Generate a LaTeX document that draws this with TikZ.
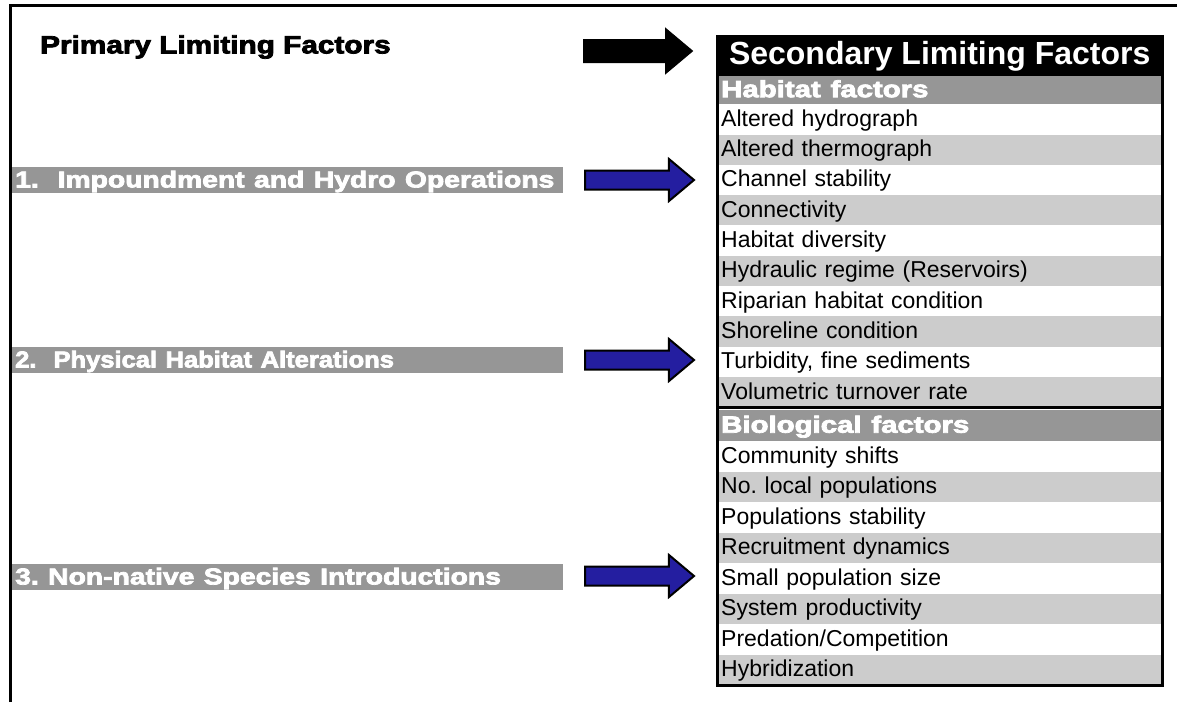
\documentclass[tikz,border=0pt]{standalone}
\usepackage{fontspec}
\setmainfont{Liberation Sans}
\newfontfamily\heavyfont[BoldFeatures={FakeBold=3}]{Liberation Sans}
\usetikzlibrary{shapes.arrows}
\definecolor{bargrey}{RGB}{150,150,150}
\definecolor{rowgrey}{RGB}{204,204,204}
\definecolor{arrowblue}{RGB}{36,30,160}
\newcommand{\wide}[2][1.23]{\scalebox{#1}[1]{#2}}
\frenchspacing
\begin{document}
\begin{tikzpicture}[x=1pt,y=-1pt,
  heavy/.style={font=\heavyfont\bfseries\fontsize{23}{23}\selectfont},
  primary/.style={font=\heavyfont\bfseries\fontsize{25}{25}\selectfont,
    anchor=west, inner sep=0, text=black},
  factorbar/.style={heavy, anchor=north west, fill=bargrey, text=white,
    minimum width=551, minimum height=26, text width=545, inner xsep=3,
    inner ysep=0, align=left, text height=16.5, text depth=2},
  rowcell/.style={anchor=north west, minimum width=445, text width=437,
    inner xsep=4, inner ysep=0, align=left,
    font=\fontsize{23}{23}\selectfont, text height=17, text depth=3},
  wrow/.style={rowcell, fill=white, minimum height=#1},
  grow/.style={rowcell, fill=rowgrey, minimum height=#1},
  header/.style={font=\heavyfont\bfseries\fontsize{23.5}{23.5}\selectfont,
    anchor=north west, fill=bargrey, text=white,
    minimum width=445, text width=437, inner xsep=4, inner ysep=0,
    align=left, minimum height=#1, text height=17, text depth=3},
  bigarrow/.style={single arrow, single arrow tip angle=80,
    minimum height=109, inner xsep=0, text height=0, text depth=0,
    anchor=tail},
  blackarrow/.style={bigarrow, fill=black, draw=black, line width=1,
    single arrow head extend=11, inner ysep=11},
  bluearrow/.style={bigarrow, fill=arrowblue, draw=black, line width=2,
    single arrow head extend=11.5, inner ysep=8.5}
]
\useasboundingbox (0,0) rectangle (1177,702);
\fill[white] (0,0) rectangle (1177,702);
% frame
\draw[line width=3] (10,702) -- (10,5) -- (1177,5);

% primary factors
\node[primary] (prim) at (40,47) {\wide[1.19]{Primary Limiting Factors}};
\node[factorbar] (p1) at (12,167) {\wide{1.\ \ Impoundment and Hydro Operations}};
\node[factorbar] (p2) at (12,347) {\wide[1.11]{2.\ \ Physical Habitat Alterations}};
\node[factorbar] (p3) at (12,564) {\wide{3. Non-native Species Introductions}};

% arrows
\node[blackarrow] (a0) at (583,51) {};
\node[bluearrow] (a1) at (584,180) {};
\node[bluearrow] (a2) at (584,360) {};
\node[bluearrow] (a3) at (584,576) {};

% table title
\node[anchor=north west, fill=black, text=white, minimum width=445,
  minimum height=40, inner sep=0,
  font=\bfseries\fontsize{32}{32}\selectfont] (title) at (717,36)
  {Secondary Limiting Factors};

% habitat
\node[header=28] (hh) at (717,76) {\wide[1.25]{Habitat factors}};
\node[wrow=30.3] (h1) at (717,104) {Altered hydrograph};
\node[grow=30.3] (h2) at (717,134.3) {Altered thermograph};
\node[wrow=30.3] (h3) at (717,164.6) {Channel stability};
\node[grow=30.3] (h4) at (717,194.9) {Connectivity};
\node[wrow=30.3] (h5) at (717,225.2) {Habitat diversity};
\node[grow=30.3] (h6) at (717,255.5) {Hydraulic regime (Reservoirs)};
\node[wrow=30.3] (h7) at (717,285.8) {Riparian habitat condition};
\node[grow=30.3] (h8) at (717,316.1) {Shoreline condition};
\node[wrow=30.3] (h9) at (717,346.4) {Turbidity, fine sediments};
\node[grow=30.3] (h10) at (717,376.7) {Volumetric turnover rate};

% biological
\node[header=31] (bh) at (717,410) {\wide[1.25]{Biological factors}};
\node[wrow=30.5] (b1) at (717,441) {Community shifts};
\node[grow=30.5] (b2) at (717,471.5) {No. local populations};
\node[wrow=30.5] (b3) at (717,502) {Populations stability};
\node[grow=30.5] (b4) at (717,532.5) {Recruitment dynamics};
\node[wrow=30.5] (b5) at (717,563) {Small population size};
\node[grow=30.5] (b6) at (717,593.5) {System productivity};
\node[wrow=30.5] (b7) at (717,624) {Predation/Competition};
\node[grow=30.5] (b8) at (717,654.5) {Hybridization};

% borders
\draw[line width=3] (title.north west) rectangle (b8.south east);
\draw[line width=3] (h10.south west) -- (h10.south east);
\end{tikzpicture}
\end{document}
